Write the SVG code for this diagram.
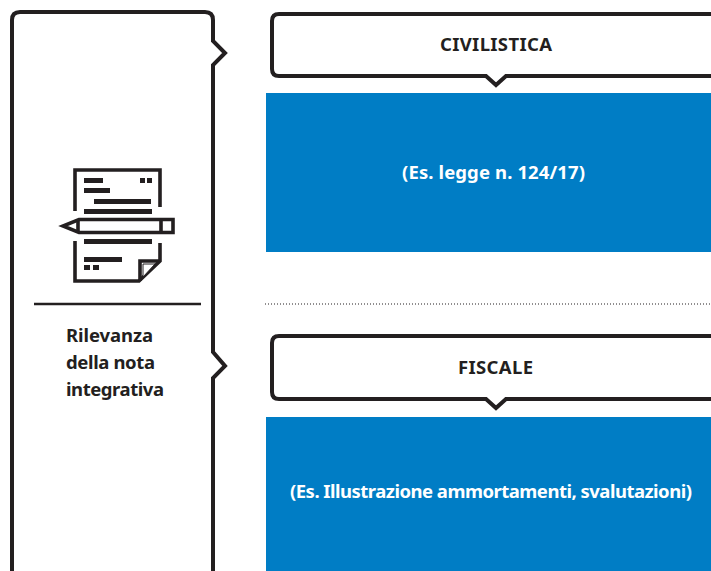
<svg xmlns="http://www.w3.org/2000/svg" width="711" height="571" viewBox="0 0 711 571">
<style>
.ln{fill:none;stroke:#231f20;stroke-width:4;stroke-linejoin:miter}
.ic{fill:none;stroke:#231f20;stroke-width:3.600}
.bar{fill:#231f20}
.blue{fill:#007dc5}
.t{font-family:"Noto Sans","Liberation Sans",sans-serif;font-weight:700;font-size:18.500px}
.d{fill:#231f20}
.w{fill:#fff}
</style>
<rect width="711" height="571" fill="#fff"/>
<g id="main-node">
<path class="ln" d="M12 573V20Q12 12 20 12H205Q213 12 213 20V41L225 53L213 65V352L225 366L213 378V573"/>
<path d="M34 304H201" stroke="#231f20" stroke-width="2.400" fill="none"/>
<text class="t d" x="66" y="342" textLength="87" lengthAdjust="spacing">Rilevanza</text>
<text class="t d" x="66" y="369" textLength="89" lengthAdjust="spacing">della nota</text>
<text class="t d" x="66" y="396" textLength="98" lengthAdjust="spacing">integrativa</text>
<g id="icon">
<path class="ic" d="M75 211V170H160V207M160 243V261L139 281H75V241"/>
<path class="ic" d="M160 261H140V281"/>
<path d="M143 264H155L143 277Z" fill="#fff" stroke="#231f20" stroke-width="1"/>
<path class="ic" d="M173 219.500H79L63 226L79 232.500H173Z"/>
<path class="ic" d="M161 219.500V232.500M78 221V231"/>
<rect class="bar" x="84" y="178" width="19" height="5"/>
<rect class="bar" x="140" y="178" width="5" height="5"/>
<rect class="bar" x="147" y="178" width="5" height="5"/>
<rect class="bar" x="84" y="188" width="26" height="5"/>
<rect class="bar" x="94" y="199" width="57" height="5"/>
<rect class="bar" x="84" y="209" width="68" height="5"/>
<rect class="bar" x="84" y="239" width="68" height="5"/>
<rect class="bar" x="84" y="257" width="38" height="5"/>
<rect class="bar" x="84" y="265" width="6" height="5"/>
<rect class="bar" x="93" y="265" width="6" height="5"/>
</g>
</g>
<g id="civilistica">
<path class="ln" d="M713 14H279Q272 14 272 21V69Q272 76 279 76H486L496 85L506 76H713"/>
<text class="t d" x="440" y="51" textLength="112" lengthAdjust="spacing">CIVILISTICA</text>
</g>
<g id="civilistica-detail">
<rect class="blue" x="266" y="93" width="445" height="159"/>
<text class="t w" x="402" y="179" textLength="183" lengthAdjust="spacing">(Es. legge n. 124/17)</text>
</g>
<g id="fiscale">
<path class="ln" d="M713 336H279Q272 336 272 343V392Q272 399 279 399H486L496 408L506 399H713"/>
<text class="t d" x="458" y="374" textLength="75" lengthAdjust="spacing">FISCALE</text>
</g>
<g id="fiscale-detail">
<rect class="blue" x="266" y="417" width="445" height="154"/>
<text class="t w" x="290" y="498" textLength="402" lengthAdjust="spacing">(Es. Illustrazione ammortamenti, svalutazioni)</text>
</g>
<g id="connectors">
<path d="M265 304H711" stroke="#231f20" stroke-width="1" stroke-dasharray="1 2" fill="none"/>
</g>
</svg>
